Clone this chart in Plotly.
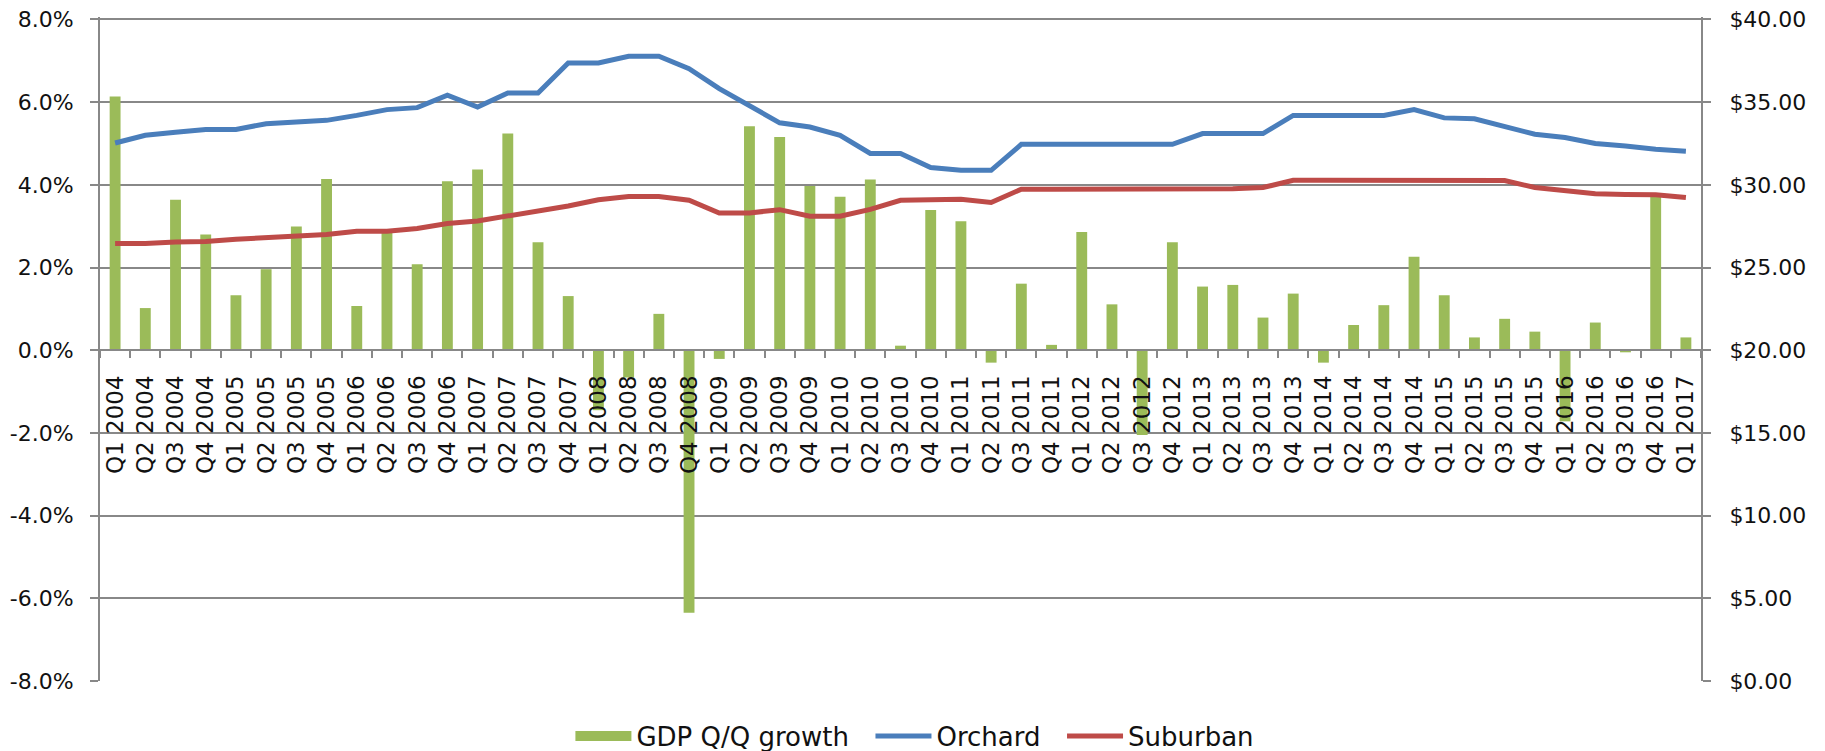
import plotly.graph_objects as go

quarters = []
for yr in range(2004, 2017):
    for q in range(1, 5):
        quarters.append(f"Q{q} {yr}")
quarters.append("Q1 2017")

gdp_growth = [
    6.14, 1.02, 3.64, 2.80, 1.33, 1.96, 2.99, 4.14, 1.07, 2.84, 2.08, 4.09,
    4.37, 5.24, 2.61, 1.31, -1.45, -0.66, 0.88, -6.35, -0.21, 5.42, 5.16, 3.97,
    3.71, 4.13, 0.11, 3.39, 3.12, -0.30, 1.61, 0.13, 2.86, 1.11, -2.05, 2.61,
    1.54, 1.58, 0.79, 1.37, -0.30, 0.61, 1.09, 2.26, 1.33, 0.31, 0.76, 0.45,
    -1.72, 0.67, -0.05, 3.72, 0.31,
]

orchard = [
    32.53, 33.00, 33.18, 33.35, 33.35, 33.70, 33.80, 33.90, 34.20, 34.55, 34.67, 35.42,
    34.71, 35.56, 35.56, 37.37, 37.37, 37.78, 37.78, 37.03, 35.82, 34.81, 33.75, 33.50,
    33.00, 31.90, 31.90, 31.05, 30.88, 30.88, 32.45, 32.45, 32.45, 32.45, 32.45, 32.45,
    33.10, 33.10, 33.10, 34.20, 34.20, 34.20, 34.20, 34.55, 34.05, 34.00, 33.56, 33.06,
    32.86, 32.50, 32.35, 32.15, 32.03,
]

suburban = [
    26.45, 26.45, 26.55, 26.57, 26.71, 26.81, 26.90, 27.00, 27.20, 27.20, 27.36, 27.66,
    27.82, 28.10, 28.42, 28.72, 29.10, 29.30, 29.30, 29.07, 28.30, 28.30, 28.50, 28.10,
    28.10, 28.52, 29.07, 29.13, 29.13, 28.93, 29.74, 29.74, 29.74, 29.74, 29.74, 29.74,
    29.74, 29.76, 29.84, 30.28, 30.28, 30.28, 30.28, 30.28, 30.28, 30.28, 30.26, 29.84,
    29.67, 29.47, 29.42, 29.40, 29.23,
]

pct_ticks = [-8, -6, -4, -2, 0, 2, 4, 6, 8]
pct_labels = ["-8.0%", "-6.0%", "-4.0%", "-2.0%", "0.0%", "2.0%", "4.0%", "6.0%", "8.0%"]
usd_ticks = [0, 5, 10, 15, 20, 25, 30, 35, 40]
usd_labels = ["$0.00", "$5.00", "$10.00", "$15.00", "$20.00", "$25.00", "$30.00", "$35.00", "$40.00"]

GREEN = "#9BBB59"
BLUE = "#4A7EBB"
RED = "#BE4B48"
GRID = "#888888"
FONT = "DejaVu Sans"
TXT = "#111111"
PAD = "\u00a0\u00a0"
RPAD = "\u00a0\u00a0"

# small headroom above the top gridline so that it is drawn (Plotly drops edge gridlines)
HEAD = 0.06
y_range = [-8, 8 + HEAD]
y2_range = [0, 40 + HEAD * 2.5]
zero_pos = (0 - y_range[0]) / (y_range[1] - y_range[0])

fig = go.Figure()
fig.add_trace(go.Bar(x=quarters, y=gdp_growth, name="GDP Q/Q growth",
                     marker=dict(color=GREEN, line=dict(width=0)),
                     yaxis="y", showlegend=False))
# legend proxy for bars (wide rectangle like the original)
fig.add_trace(go.Scatter(x=[None], y=[None], mode="lines", name="GDP Q/Q growth" + PAD,
                         line=dict(color=GREEN, width=14), yaxis="y"))
fig.add_trace(go.Scatter(x=quarters, y=orchard, name="Orchard" + PAD, mode="lines",
                         line=dict(color=BLUE, width=5), yaxis="y2"))
fig.add_trace(go.Scatter(x=quarters, y=suburban, name="Suburban", mode="lines",
                         line=dict(color=RED, width=5), yaxis="y2"))

# the page body adds an 8px offset; figure is sized to fit the 1825x751 window
fig.update_layout(
    width=1817, height=743,
    margin=dict(l=92, r=124, t=8.5, b=70, autoexpand=False),
    paper_bgcolor="white", plot_bgcolor="white",
    font=dict(family=FONT, size=22, color=TXT),
    bargap=0.64,
    showlegend=True,
    legend=dict(orientation="h", x=0.509, xanchor="center", y=-0.083, yanchor="middle",
                font=dict(size=26, family=FONT, color=TXT),
                itemwidth=56, bgcolor="rgba(0,0,0,0)"),
    xaxis=dict(
        type="category", anchor="free", position=zero_pos,
        showline=True, linecolor=GRID, linewidth=2,
        ticks="outside", ticklen=7, tickwidth=1.5, tickcolor=GRID,
        tickson="boundaries", tickangle=-90, ticklabelstandoff=15,
        tickfont=dict(size=23, family=FONT, color=TXT),
        showgrid=False, zeroline=False,
    ),
    yaxis=dict(
        range=y_range, tickvals=pct_ticks, ticktext=pct_labels,
        showgrid=True, gridcolor=GRID, gridwidth=1.5,
        showline=True, linecolor=GRID, linewidth=2,
        ticks="outside", ticklen=8, tickwidth=1.5, tickcolor=GRID,
        ticklabelstandoff=12, ticklabeloverflow="allow",
        zeroline=False, tickfont=dict(size=22, family=FONT, color=TXT),
    ),
    yaxis2=dict(
        range=y2_range, tickvals=usd_ticks, ticktext=[RPAD + s for s in usd_labels],
        overlaying="y", side="right", showgrid=False, zeroline=False,
        showline=True, linecolor=GRID, linewidth=2,
        ticks="outside", ticklen=8, tickwidth=1.5, tickcolor=GRID,
        ticklabeloverflow="allow",
        tickfont=dict(size=22, family=FONT, color=TXT),
    ),
)

fig.write_html("out.html")
